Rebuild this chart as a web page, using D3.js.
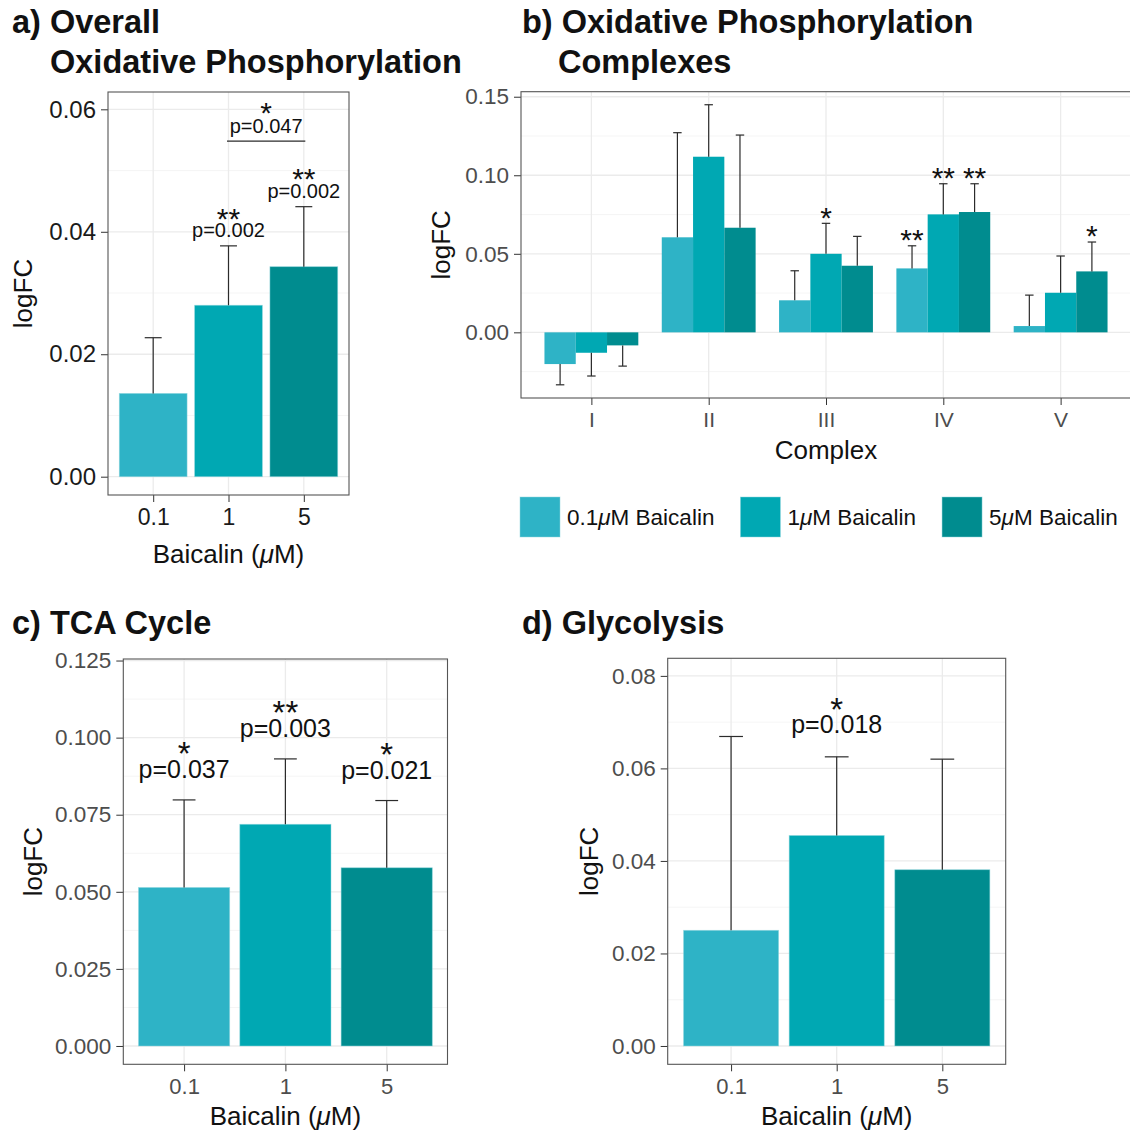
<!DOCTYPE html>
<html>
<head>
<meta charset="utf-8">
<script src="https://cdn.jsdelivr.net/npm/d3@7"></script>
<style>
  html, body { margin: 0; padding: 0; background: #ffffff; }
  svg { display: block; }
</style>
</head>
<body>
<script>
// ---------------- DATA ----------------
const doses = ["0.1", "1", "5"];
const seriesNames = ["0.1", "1", "5"];          // legend: "<dose>μM Baicalin"

// a) Overall oxidative phosphorylation
const overallValues = [0.0136, 0.0280, 0.0343];
const overallErrTop = [0.0227, 0.0377, 0.0441];
const overallStars  = ["", "**", "**"];
const overallP      = ["", "p=0.002", "p=0.002"];
const overallBracket = { from: "1", to: "5", y: 0.0548, star: "*", p: "p=0.047" };

// b) Oxidative phosphorylation complexes
const complexes = ["I", "II", "III", "IV", "V"];
const complexValues = [
  [-0.0202, 0.0605, 0.0204, 0.0407, 0.0040],   // 0.1 µM
  [-0.0130, 0.1118, 0.0500, 0.0751, 0.0252],   // 1 µM
  [-0.0083, 0.0666, 0.0424, 0.0766, 0.0388]    // 5 µM
];
const complexErrEnd = [
  [-0.0334, 0.1271, 0.0392, 0.0551, 0.0237],
  [-0.0278, 0.1449, 0.0694, 0.0946, 0.0486],
  [-0.0215, 0.1256, 0.0611, 0.0946, 0.0575]
];
const complexStars = [
  ["", "", "", "**", ""],
  ["", "", "*", "**", ""],
  ["", "", "", "**", "*"]
];

// c) TCA cycle
const tcaValues = [0.0514, 0.0719, 0.0578];
const tcaErrTop = [0.0798, 0.0931, 0.0796];
const tcaStars  = ["*", "**", "*"];
const tcaP      = ["p=0.037", "p=0.003", "p=0.021"];

// d) Glycolysis
const glyValues = [0.0250, 0.0455, 0.0381];
const glyErrTop = [0.0669, 0.0625, 0.0620];
const glyStars  = ["", "*", ""];
const glyP      = ["", "p=0.018", ""];

// tick values
const ticksA = [0, 0.02, 0.04, 0.06],  minorA = [0.01, 0.03, 0.05];
const ticksB = [0, 0.05, 0.10, 0.15],  minorB = [-0.025, 0.025, 0.075, 0.125];
const ticksC = [0, 0.025, 0.05, 0.075, 0.1, 0.125], minorC = [0.0125, 0.0375, 0.0625, 0.0875, 0.1125];
const ticksD = [0, 0.02, 0.04, 0.06, 0.08], minorD = [0.01, 0.03, 0.05, 0.07];

// ---------------- STYLE ----------------
const FONT = "'Liberation Sans', Arial, Helvetica, sans-serif";
const colors = ["#2eb3c6", "#00a8b3", "#008c8f"];
const GRID_MAJOR = "#ebebeb", GRID_MINOR = "#f3f3f3";

const svg = d3.select("body").append("svg")
  .attr("width", 1130).attr("height", 1131)
  .style("font-family", FONT);
svg.append("rect").attr("width", 1130).attr("height", 1131).attr("fill", "#fff");

function muText(sel, before, after) {
  sel.append("tspan").text(before);
  sel.append("tspan").attr("font-style", "italic").text("\u03bc");
  sel.append("tspan").text(after);
}

function makePanel(p) {
  const g = svg.append("g");
  const y = d3.scaleLinear().domain(p.yDomain).range([p.y1, p.y0]);
  const x = d3.scalePoint().domain(p.cats).range([p.x0, p.x1]).padding(0.6);
  g.selectAll(".minor").data(p.minor).join("line")
    .attr("x1", p.x0).attr("x2", p.x1).attr("y1", d => y(d)).attr("y2", d => y(d))
    .attr("stroke", GRID_MINOR).attr("stroke-width", 0.8);
  g.selectAll(".major").data(p.ticks).join("line")
    .attr("x1", p.x0).attr("x2", p.x1).attr("y1", d => y(d)).attr("y2", d => y(d))
    .attr("stroke", GRID_MAJOR).attr("stroke-width", 1.3);
  g.selectAll(".vmajor").data(p.cats).join("line")
    .attr("x1", d => x(d)).attr("x2", d => x(d)).attr("y1", p.y0).attr("y2", p.y1)
    .attr("stroke", GRID_MAJOR).attr("stroke-width", 1.3);

  const ya = g.append("g").attr("transform", `translate(${p.x0},0)`)
    .call(d3.axisLeft(y).tickValues(p.ticks).tickFormat(d3.format(p.fmt)).tickSize(7).tickPadding(5));
  ya.select(".domain").remove();
  ya.selectAll("line").attr("stroke", "#333").attr("stroke-width", 1);
  ya.selectAll("text").attr("fill", p.tickColor).style("font-size", p.yTickSize + "px").style("font-family", FONT);

  const xa = g.append("g").attr("transform", `translate(0,${p.y1})`)
    .call(d3.axisBottom(x).tickSize(7).tickPadding(7));
  xa.select(".domain").remove();
  xa.selectAll("line").attr("stroke", "#333").attr("stroke-width", 1);
  xa.selectAll("text").attr("fill", p.tickColor).style("font-size", p.xTickSize + "px").style("font-family", FONT);

  g.append("text")
    .attr("transform", `translate(${p.yTitleX},${(p.y0 + p.y1) / 2}) rotate(-90)`)
    .attr("text-anchor", "middle").style("font-size", "26px").attr("fill", "#111")
    .text("logFC");
  const xt = g.append("text").attr("x", (p.x0 + p.x1) / 2).attr("y", p.xTitleY)
    .attr("text-anchor", "middle").style("font-size", "26px").attr("fill", "#111");
  if (p.xTitle) xt.text(p.xTitle); else muText(xt, "Baicalin (", "M)");

  p.g = g; p.x = x; p.y = y;
  return p;
}

function drawBorder(p) {
  p.g.append("rect").attr("x", p.x0).attr("y", p.y0)
    .attr("width", p.x1 - p.x0).attr("height", p.y1 - p.y0)
    .attr("fill", "none").attr("stroke", "#555").attr("stroke-width", 1.1);
}

function errorBar(g, cx, yv, ye, capW) {
  g.append("line").attr("x1", cx).attr("x2", cx).attr("y1", yv).attr("y2", ye)
    .attr("stroke", "#2b2b2b").attr("stroke-width", 1.2);
  g.append("line").attr("x1", cx - capW / 2).attr("x2", cx + capW / 2).attr("y1", ye).attr("y2", ye)
    .attr("stroke", "#2b2b2b").attr("stroke-width", 1.2);
}

// one text element: significance stars above an optional p-value line
function label(g, cx, pBase, starCenter, s, p, starSize, pSize) {
  if (!s && !p) return;
  const t = g.append("text").attr("text-anchor", "middle").attr("fill", "#111");
  if (s) t.append("tspan").attr("x", cx).attr("y", starCenter + 0.575 * starSize)
    .style("font-size", starSize + "px").text(s);
  if (p) t.append("tspan").attr("x", cx).attr("y", pBase)
    .style("font-size", pSize + "px").text(p);
}

function simpleBars(p, values, errTop, stars, ps, cfg) {
  const step = p.x.step();
  const bw = step * 0.9;
  values.forEach((v, i) => {
    const cx = p.x(doses[i]);
    p.g.append("rect").attr("x", cx - bw / 2).attr("y", p.y(v))
      .attr("width", bw).attr("height", p.y(0) - p.y(v))
      .attr("fill", colors[i]).attr("stroke", "#8fd6de").attr("stroke-width", 0.8).attr("stroke-opacity", 0.6);
  });
  values.forEach((v, i) => {
    const cx = p.x(doses[i]);
    errorBar(p.g, cx, p.y(v), p.y(errTop[i]), bw * 0.25);
    const base = p.y(errTop[i]) - cfg.pGap;
    label(p.g, cx, base, ps[i] ? base - cfg.starGap : p.y(errTop[i]) - 13,
      stars[i], ps[i], cfg.starSize, cfg.pSize);
  });
}

// ---------------- PANEL A ----------------
const A = makePanel({
  x0: 108, x1: 349, y0: 92, y1: 495, yDomain: [-0.00299, 0.06283],
  cats: doses, ticks: ticksA, minor: minorA, fmt: ".2f",
  tickColor: "#1a1a1a", yTickSize: 24, xTickSize: 23, yTitleX: 32, xTitleY: 563
});
simpleBars(A, overallValues, overallErrTop, overallStars, overallP,
  { pGap: 9, pSize: 20, starGap: 25.5, starSize: 30 });
{
  const xa = A.x(overallBracket.from), xb = A.x(overallBracket.to), yb = A.y(overallBracket.y);
  A.g.append("line").attr("x1", xa - 1.5).attr("x2", xb + 1.5).attr("y1", yb).attr("y2", yb)
    .attr("stroke", "#2b2b2b").attr("stroke-width", 1.1);
  const base = yb - 8.6;
  label(A.g, (xa + xb) / 2, base, base - 27, overallBracket.star, overallBracket.p, 30, 20);
}
drawBorder(A);

// ---------------- PANEL B ----------------
const B = makePanel({
  x0: 521, x1: 1131, y0: 91.7, y1: 398, yDomain: [-0.0418, 0.1532],
  cats: complexes, ticks: ticksB, minor: minorB, fmt: ".2f",
  tickColor: "#4d4d4d", yTickSize: 22.5, xTickSize: 21, yTitleX: 450, xTitleY: 459,
  xTitle: "Complex"
});
{
  const step = B.x.step();
  const bw = step * 0.8 / 3;
  complexValues.forEach((vals, s) => {
    vals.forEach((v, i) => {
      const cx = B.x(complexes[i]) + (s - 1) * bw;
      const top = Math.min(B.y(v), B.y(0));
      B.g.append("rect").attr("x", cx - bw / 2).attr("y", top)
        .attr("width", bw).attr("height", Math.abs(B.y(0) - B.y(v)))
        .attr("fill", colors[s]);
    });
  });
  complexValues.forEach((vals, s) => {
    vals.forEach((v, i) => {
      const cx = B.x(complexes[i]) + (s - 1) * bw;
      errorBar(B.g, cx, B.y(v), B.y(complexErrEnd[s][i]), bw * 0.27);
      label(B.g, cx, 0, B.y(complexErrEnd[s][i]) - 13, complexStars[s][i], "", 30, 20);
    });
  });
}
drawBorder(B);

// legend
{
  const lg = svg.append("g");
  let x = 520;
  seriesNames.forEach((n, i) => {
    lg.append("rect").attr("x", x).attr("y", 497).attr("width", 40).attr("height", 40)
      .attr("fill", colors[i]).attr("stroke", "#8fd6de").attr("stroke-width", 0.8).attr("stroke-opacity", 0.6);
    const t = lg.append("text").attr("x", x + 47).attr("y", 525)
      .style("font-size", "22.5px").attr("fill", "#111");
    muText(t, n, "M Baicalin");
    x = x + 47 + t.node().getComputedTextLength() + 26;
  });
}

// ---------------- PANEL C ----------------
const C = makePanel({
  x0: 123.3, x1: 447.5, y0: 659, y1: 1064.3, yDomain: [-0.00594, 0.1255],
  cats: doses, ticks: ticksC, minor: minorC, fmt: ".3f",
  tickColor: "#4d4d4d", yTickSize: 22.5, xTickSize: 22, yTitleX: 42, xTitleY: 1125
});
simpleBars(C, tcaValues, tcaErrTop, tcaStars, tcaP,
  { pGap: 22, pSize: 25, starGap: 32, starSize: 33 });
drawBorder(C);

// ---------------- PANEL D ----------------
const D = makePanel({
  x0: 667.7, x1: 1005.7, y0: 658.3, y1: 1064.3, yDomain: [-0.00396, 0.0838],
  cats: doses, ticks: ticksD, minor: minorD, fmt: ".2f",
  tickColor: "#4d4d4d", yTickSize: 22.5, xTickSize: 22, yTitleX: 598, xTitleY: 1125
});
simpleBars(D, glyValues, glyErrTop, glyStars, glyP,
  { pGap: 23.5, pSize: 25, starGap: 31.6, starSize: 33 });
drawBorder(D);

// ---------------- TITLES ----------------
const titles = [
  { x: 12, y: 33, t: "a) Overall" },
  { x: 50, y: 73, t: "Oxidative Phosphorylation" },
  { x: 522, y: 33, t: "b) Oxidative Phosphorylation" },
  { x: 558, y: 73, t: "Complexes" },
  { x: 12, y: 634, t: "c) TCA Cycle" },
  { x: 522, y: 634, t: "d) Glycolysis" }
];
svg.selectAll(".title").data(titles).join("text")
  .attr("x", d => d.x).attr("y", d => d.y)
  .style("font-size", "32.5px").style("font-weight", "bold").attr("fill", "#111")
  .text(d => d.t);
</script>
</body>
</html>
